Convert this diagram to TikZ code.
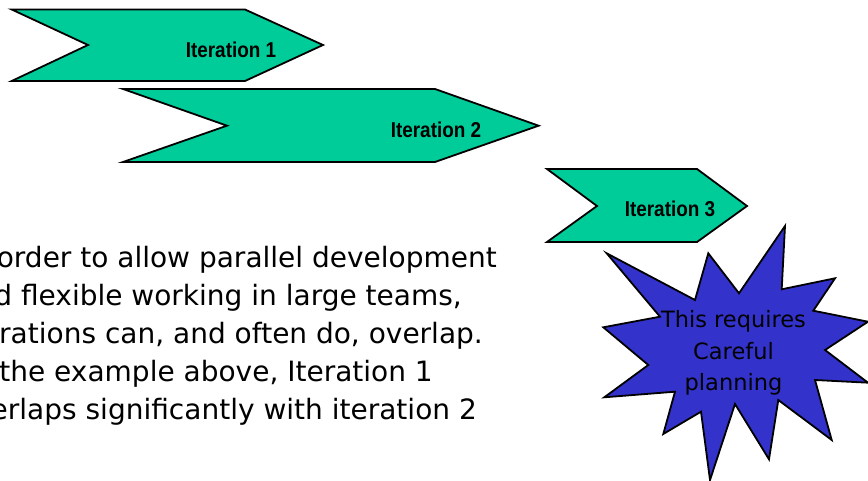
\documentclass[tikz,border=0pt]{standalone}
\usepackage{fontspec}
\setmainfont{DejaVu Sans}
\newfontfamily\chevfont[FakeStretch=0.88]{Liberation Sans}
\definecolor{chevgreen}{RGB}{0,204,153}
\definecolor{starblue}{RGB}{51,51,204}
\begin{document}
\begin{tikzpicture}[x=1pt,y=-1pt,
  chevron/.style={draw=black, fill=chevgreen, line width=1.8pt, line join=miter},
  chevlabel/.style={inner sep=0pt, anchor=base, font=\chevfont\bfseries\fontsize{21.5}{24}\selectfont},
  bodyline/.style={inner sep=0pt, anchor=base east, font=\fontsize{28}{38}\selectfont},
  burst/.style={draw=black, fill=starblue, line width=1.8pt, line join=miter},
  burstlabel/.style={inner sep=0pt, align=center, font=\fontsize{22.5}{31.5}\selectfont}]
\fill[white] (0,0) rectangle (868,481);
\useasboundingbox (0,0) rectangle (868,481);
\clip (0,0) rectangle (868,481);
% chevrons
\draw[chevron] (11.7,9.5) -- (245,9.5) -- (323,45) -- (245,81) -- (11.7,81) -- (88,45) -- cycle;
\draw[chevron] (123,89) -- (435,89) -- (538.6,125.7) -- (435,162) -- (123,162) -- (227,125.7) -- cycle;
\draw[chevron] (547,169) -- (697,169) -- (747,206) -- (697,242) -- (547,242) -- (597,206) -- cycle;
\node[chevlabel] (it1) at (231,57.3) {Iteration 1};
\node[chevlabel] (it2) at (436,138) {Iteration 2};
\node[chevlabel] (it3) at (670,216.7) {Iteration 3};
% body text
\node[bodyline] (l1) at (497,267.3) {order to allow parallel development};
\node[bodyline] (l2) at (462,305.3) {d flexible working in large teams,};
\node[bodyline] (l3) at (483,343.3) {rations can, and often do, overlap.};
\node[bodyline] (l4) at (433,381.5) {the example above, Iteration 1};
\node[bodyline] (l5) at (477,419.5) {erlaps significantly with iteration 2};
% starburst
\draw[burst] (606.7,253.3) -- (695,300) -- (708.3,253.3) -- (739,293.3) -- (785,226)
  -- (781.7,289.3) -- (835,278.3) -- (813.3,310.7) -- (868,321.7) -- (825,350)
  -- (868,382.7) -- (815,380) -- (831.7,440) -- (778.3,400) -- (769,459.3)
  -- (735,404) -- (710,480) -- (701,411.7) -- (663.3,434) -- (675,391.7)
  -- (604.3,397.3) -- (648.3,365) -- (603.3,327.3) -- (660,316.7) -- cycle;
\node[burstlabel] (plan) at (733.5,352.8) {This requires\\Careful\\planning};
\end{tikzpicture}
\end{document}
